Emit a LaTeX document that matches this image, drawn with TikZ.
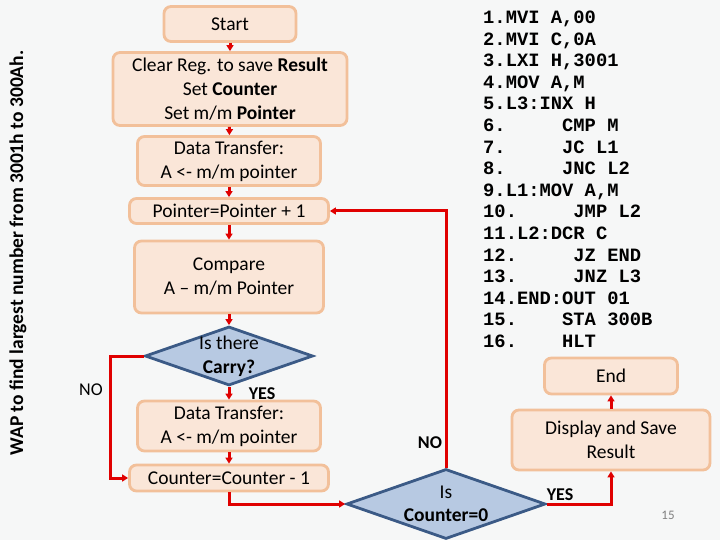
\documentclass[tikz,border=0pt]{standalone}
\usepackage{fontspec}
\setmainfont{Carlito}
\setmonofont{Liberation Mono}
\usetikzlibrary{shapes.geometric,arrows.meta}
\definecolor{bgcol}{HTML}{F6F7F7}
\definecolor{boxfill}{HTML}{FAE6D8}
\definecolor{boxline}{HTML}{F2C09A}
\definecolor{decfill}{HTML}{B7C9E2}
\definecolor{decline}{HTML}{3B5A86}
\definecolor{flowred}{HTML}{E00000}

\begin{document}
\begin{tikzpicture}[x=1pt,y=-1pt,
    >={Triangle[length=6pt,width=7pt]},
    box/.style={draw=boxline,line width=2.8pt,fill=boxfill,rounded corners=7pt,
      align=center,inner sep=0pt,font=\fontsize{19.5}{24}\selectfont},
    decision/.style={diamond,draw=decline,line width=2.8pt,fill=decfill,inner sep=0pt},
    flow/.style={->,draw=flowred,line width=3pt},
    tag/.style={font=\fontsize{18}{20}\selectfont\bfseries}]
      \fill[bgcol] (0,0) rectangle (720,540);
      \useasboundingbox (0,0) rectangle (720,540);
      \node[rotate=90,font=\fontsize{19.5}{22}\selectfont\bfseries] (title) at (18,253)
        {WAP to find largest number from 3001h to 300Ah.};
      % left column
      \node[box,minimum width=132pt,minimum height=35pt] (start) at (230,24) {Start};
      \node[box,minimum width=234pt,minimum height=73pt] (clear) at (230,89)
        {Clear Reg. to save \textbf{Result}\\Set \textbf{Counter}\\Set m/m \textbf{Pointer}};
      \node[box,minimum width=183pt,minimum height=49pt] (load1) at (229,161)
        {Data Transfer:\\A <- m/m pointer};
      \node[box,minimum width=199pt,minimum height=25pt] (pointer) at (229,211)
        {Pointer=Pointer + 1};
      \node[box,minimum width=189pt,minimum height=72pt] (compare) at (229,277)
        {Compare\\A -- m/m Pointer};
      \node[decision,minimum width=168pt,minimum height=59pt,
        label={[align=center,font=\fontsize{19.5}{24}\selectfont]center:Is there\\\textbf{Carry?}}]
        (carry) at (229,356) {};
      \node[box,minimum width=183pt,minimum height=50pt] (load2) at (229,426)
        {Data Transfer:\\A <- m/m pointer};
      \node[box,minimum width=199pt,minimum height=26pt] (counter) at (229,478)
        {Counter=Counter - 1};
      % right part
      \node[decision,minimum width=199pt,minimum height=70pt,
        label={[align=center,font=\fontsize{19.5}{23}\selectfont]center:Is\\\textbf{Counter=0}}]
        (zero) at (446,504) {};
      \node[box,minimum width=198pt,minimum height=60pt] (display) at (611,440)
        {Display and Save\\Result};
      \node[box,minimum width=133pt,minimum height=36pt] (end) at (611,376) {End};
      % program listing
      \foreach \ln [count=\i] in {{1.MVI A,00},{2.MVI C,0A},{3.LXI H,3001},{4.MOV A,M},
          {5.L3:INX H},{6.\ \ \ \ \ CMP M},{7.\ \ \ \ \ JC L1},{8.\ \ \ \ \ JNC L2},
          {9.L1:MOV A,M},{10.\ \ \ \ \ JMP L2},{11.L2:DCR C},{12.\ \ \ \ \ JZ END},
          {13.\ \ \ \ \ JNZ L3},{14.END:OUT 01},{15.\ \ \ \ STA 300B},{16.\ \ \ \ HLT}}
        \node[anchor=base west,inner sep=0pt,font=\fontsize{18.8}{21.6}\selectfont\ttfamily\bfseries]
          (code\i) at (483,{23.5+21.6*(\i-1)}) {\ln};
      % connectors
      \draw[flow] (start) -- (clear);
      \draw[flow] (clear) -- (load1);
      \draw[flow] (load1) -- (pointer);
      \draw[flow] (pointer) -- (compare);
      \draw[flow] (compare) -- (carry.north);
      \draw[flow] (carry.south) -- (load2);
      \draw[flow] (load2) -- (counter);
      \draw[flow] (carry.west) -- ++(-33,0) |- (counter.west);
      \draw[flow] (counter.south) |- (zero.west);
      \draw[flow] (zero.north) |- (pointer.east);
      \draw[flow] (zero.east) -| (display.south);
      \draw[flow] (display) -- (end);
      % labels
      \node[tag,font=\fontsize{18}{20}\selectfont] (no1) at (91,390) {NO};
      \node[tag] (yes1) at (262,394) {YES};
      \node[tag] (no2) at (430,443) {NO};
      \node[tag] (yes2) at (560,495) {YES};
      \node[text=gray,font=\fontsize{13}{15}\selectfont] (page) at (668,515) {15};
\end{tikzpicture}
\end{document}
